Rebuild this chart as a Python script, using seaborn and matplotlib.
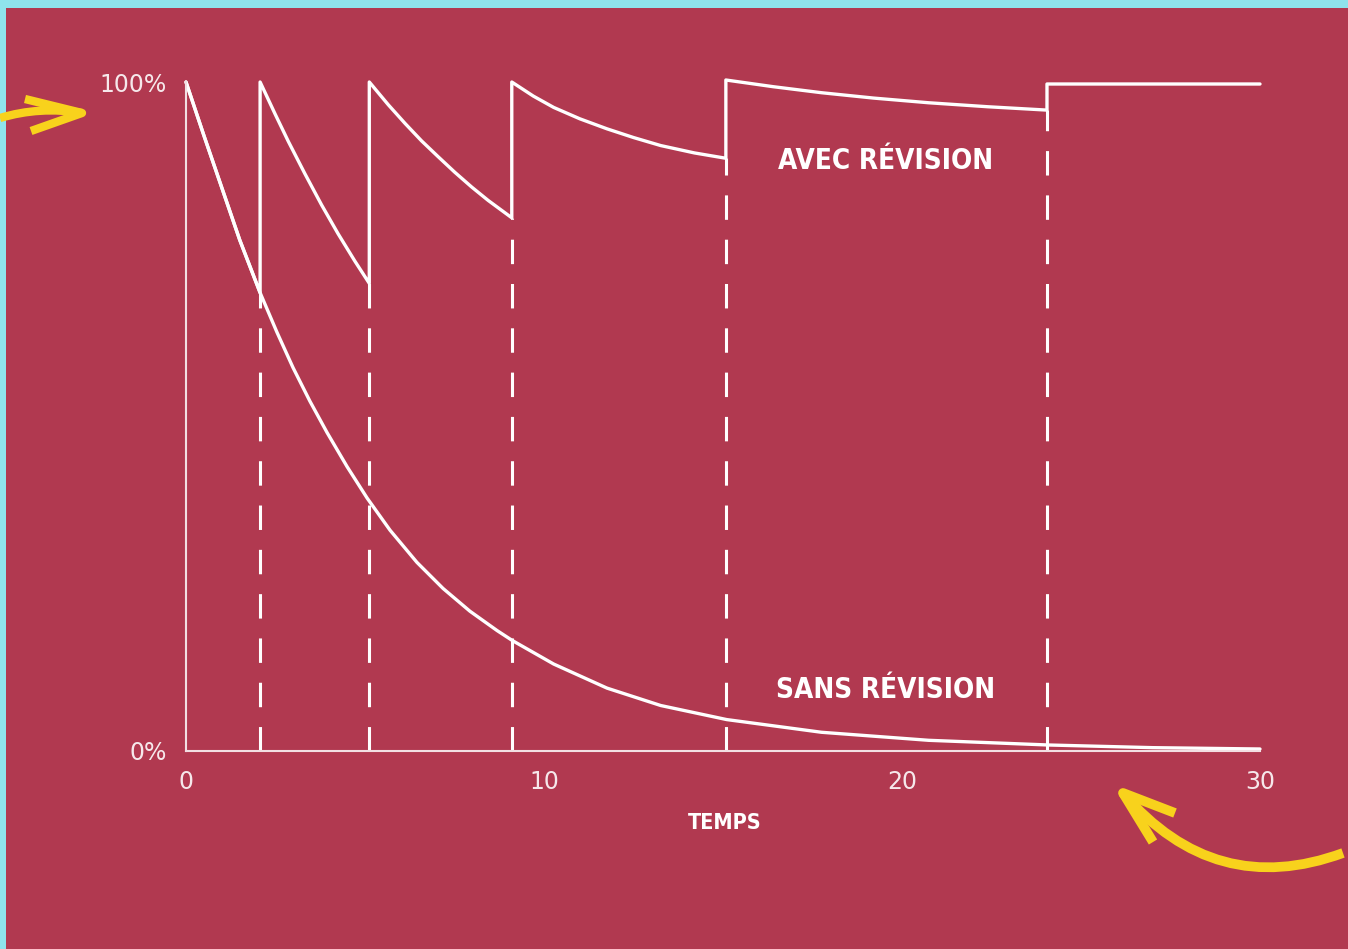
import matplotlib
matplotlib.use("Agg")
import matplotlib.pyplot as plt
from matplotlib.patches import Rectangle, PathPatch
from matplotlib.path import Path
import seaborn as sns
import pandas as pd

# courbe sans révision (temps, rétention)
t_sans = [0, 0.5, 1, 1.5, 2.07, 2.54, 2.99, 3.46, 3.94, 4.5, 5.06, 5.7, 6.45,
          7.18, 7.93, 8.69, 9.12, 10.27, 11.76, 13.26, 15.1, 17.75, 20.74,
          24.08, 27, 30]
r_sans = [1.0, 0.92, 0.842, 0.764, 0.685, 0.626, 0.573, 0.523, 0.476, 0.425,
          0.378, 0.33, 0.282, 0.243, 0.209, 0.18, 0.165, 0.13, 0.094, 0.068,
          0.047, 0.028, 0.016, 0.009, 0.005, 0.003]

# courbe avec révision (les sauts répètent le temps)
t_avec = [0, 0.5, 1, 1.5, 2.07,
          2.07, 2.49, 2.86, 3.32, 3.79, 4.25, 4.72, 5.12,
          5.12, 5.65, 6.12, 6.58, 7.05, 7.51, 7.98, 8.44, 9.1,
          9.1, 9.7, 10.27, 11.0, 11.76, 12.5, 13.26, 14.2, 15.08,
          15.08, 16.4, 17.75, 19.2, 20.74, 22.4, 24.05,
          24.05, 30]
r_avec = [1.0, 0.92, 0.842, 0.764, 0.685,
          1.0, 0.952, 0.911, 0.863, 0.816, 0.773, 0.732, 0.699,
          1.0, 0.966, 0.938, 0.912, 0.888, 0.865, 0.843, 0.823, 0.797,
          1.0, 0.979, 0.962, 0.945, 0.93, 0.917, 0.905, 0.894, 0.886,
          1.003, 0.993, 0.984, 0.976, 0.969, 0.963, 0.958,
          0.997, 0.997]

# révisions : temps et niveau juste avant
t_revision = [2.07, 5.12, 9.1, 15.08, 24.05]
r_revision = [0.685, 0.699, 0.797, 0.886, 0.958]

x_ticks = [0, 10, 20, 30]
y_ticks = [0, 1]
y_labels = ["0%", "100%"]

BG = "#b13950"
CYAN = "#8fe3ec"
YELLOW = "#f8d21c"
TXT = "#f6e8eb"

sns.set_style("white")
fig = plt.figure(figsize=(13.48, 9.49), dpi=100, facecolor=CYAN)
W, H = 1348, 949
fig.patches.append(Rectangle((6 / W, 0), 1, (H - 8) / H, transform=fig.transFigure,
                             facecolor=BG, edgecolor="none", zorder=-10))

ax = fig.add_axes([186 / W, (H - 751) / H, (1260 - 186) / W, (751 - 82) / H])
ax.set_facecolor("none")

df_sans = pd.DataFrame({"t": t_sans, "r": r_sans})
df_avec = pd.DataFrame({"t": t_avec, "r": r_avec})
for df in (df_sans, df_avec):
    sns.lineplot(data=df, x="t", y="r", sort=False, estimator=None,
                 color="white", lw=2.4, ax=ax, clip_on=False,
                 solid_joinstyle="round", solid_capstyle="round")
ax.vlines(t_revision, 0, r_revision, colors="white", lw=2.2,
          linestyles=[(0, (8, 6.5))])

ax.set_xlim(0, 30)
ax.set_ylim(0, 1)
ax.set_xticks(x_ticks)
ax.set_xticklabels([str(v) for v in x_ticks], color=TXT, fontsize=17)
ax.set_yticks(y_ticks)
ax.set_yticklabels(y_labels, color=TXT, fontsize=17)
ax.tick_params(length=0, pad=14)
ax.tick_params(axis="y", pad=14)
for s in ["top", "right"]:
    ax.spines[s].set_visible(False)
for s in ["left", "bottom"]:
    ax.spines[s].set_color("#f2dfe3")
    ax.spines[s].set_linewidth(1.5)
ax.set_xlabel("")
ax.set_ylabel("")

lab = dict(ha="center", va="center", color="white", fontweight="bold",
           fontstretch="condensed", family="DejaVu Sans")
ax.text(19.55, 0.882, "AVEC RÉVISION", fontsize=20, **lab)
ax.text(19.55, 0.091, "SANS RÉVISION", fontsize=20, **lab)
ax.text(15.05, -0.108, "TEMPS", fontsize=15.5, **lab)

# flèches jaunes dessinées à main levée
over = fig.add_axes([0, 0, 1, 1])
over.set_xlim(0, W)
over.set_ylim(H, 0)
over.axis("off")
over.patch.set_alpha(0)

def stroke(pts, codes, lw):
    over.add_patch(PathPatch(Path(pts, codes), facecolor="none", edgecolor=YELLOW,
                             lw=lw, capstyle="butt", joinstyle="round"))

stroke([(0, 118), (40, 106), (82, 113)], [Path.MOVETO, Path.CURVE3, Path.CURVE3], 6)
stroke([(25, 99), (82, 113), (31, 131)], [Path.MOVETO, Path.LINETO, Path.LINETO], 6)
stroke([(1343, 853), (1215, 900), (1123, 793)], [Path.MOVETO, Path.CURVE3, Path.CURVE3], 7)
stroke([(1175, 813), (1123, 793), (1153, 842)], [Path.MOVETO, Path.LINETO, Path.LINETO], 7)

fig.savefig("out.png", dpi=100, facecolor=fig.get_facecolor())
